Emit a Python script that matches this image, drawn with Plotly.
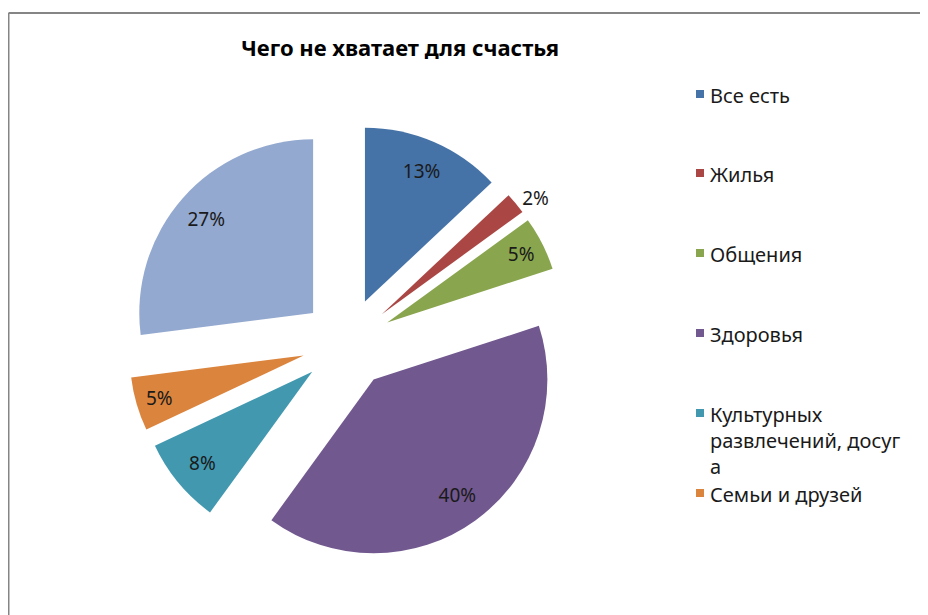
import plotly.graph_objects as go

categories = ["Все есть", "Жилья", "Общения", "Здоровья",
              "Культурных развлечений, досуга", "Семьи и друзей", "Другое"]
values = [13, 2, 5, 40, 8, 5, 27]
colors = ["#4572A7", "#AA4643", "#89A54E", "#71588F", "#4198AF", "#DB843D", "#93A9CF"]
legend_text = ["Все есть", "Жилья", "Общения", "Здоровья",
               "Культурных<br>развлечений, досуг<br>а", "Семьи и друзей"]
legend_rows = [94, 173, 253, 333, 413, 493]  # pixel rows (window) of legend entries
label_pos = ["inside", "outside", "inside", "inside", "inside", "inside", "inside"]

OFF = 8                      # default page margin of the html body
W, H = 928 - OFF, 615 - OFF  # figure fills the rest of the window
FONT = "Noto Sans"
PULL = 0.26


def px(x):
    return (x - OFF) / W


def py(y):
    return 1 - (y - OFF) / H


CX, CY, HALF = 347, 343, 219
DOM = dict(x=[px(CX - HALF), px(CX + HALF)], y=[py(CY + HALF), py(CY - HALF)])

fig = go.Figure()
fig.add_trace(go.Pie(
    labels=categories, values=values, sort=False, direction="clockwise", rotation=0,
    pull=[PULL] * len(values),
    marker=dict(colors=colors, line=dict(width=0)),
    textinfo="none", showlegend=False, domain=DOM, hoverinfo="label+percent",
))
fig.add_trace(go.Pie(
    labels=categories, values=values, sort=False, direction="clockwise", rotation=0,
    pull=[PULL] * len(values), hole=0.64,
    marker=dict(colors=["rgba(0,0,0,0)"] * len(values), line=dict(width=0)),
    textinfo="percent", textposition=label_pos, insidetextorientation="horizontal",
    textfont=dict(family=FONT, size=19, color="#1a1a1a"),
    showlegend=False, domain=DOM, hoverinfo="skip",
))

frame = dict(color="#858585", width=2)
shapes = [
    dict(type="line", xref="paper", yref="paper", x0=px(8.5), x1=1, y0=py(13), y1=py(13), line=frame),
    dict(type="line", xref="paper", yref="paper", x0=px(8.5), x1=px(8.5), y0=py(13), y1=0, line=frame),
]
annotations = [dict(text="<b>Чего не хватает для счастья</b>", xref="paper", yref="paper",
                    x=px(400), y=py(47), xanchor="center", yanchor="middle",
                    showarrow=False, font=dict(family=FONT, size=22, color="#000000"))]
for i, txt in enumerate(legend_text):
    yc = legend_rows[i]
    shapes.append(dict(type="rect", xref="paper", yref="paper",
                       x0=px(696), x1=px(704), y0=py(yc - 4), y1=py(yc + 4),
                       fillcolor=colors[i], line=dict(width=0)))
    annotations.append(dict(text=txt, xref="paper", yref="paper",
                            x=px(708), y=py(yc - 14), xanchor="left", yanchor="top",
                            align="left", showarrow=False,
                            font=dict(family=FONT, size=20, color="#1a1a1a")))

fig.update_layout(
    width=W, height=H,
    margin=dict(l=0, r=0, t=0, b=0, pad=0, autoexpand=False),
    paper_bgcolor="white",
    shapes=shapes,
    annotations=annotations,
)
fig.write_html("out.html", config={"displayModeBar": False})
